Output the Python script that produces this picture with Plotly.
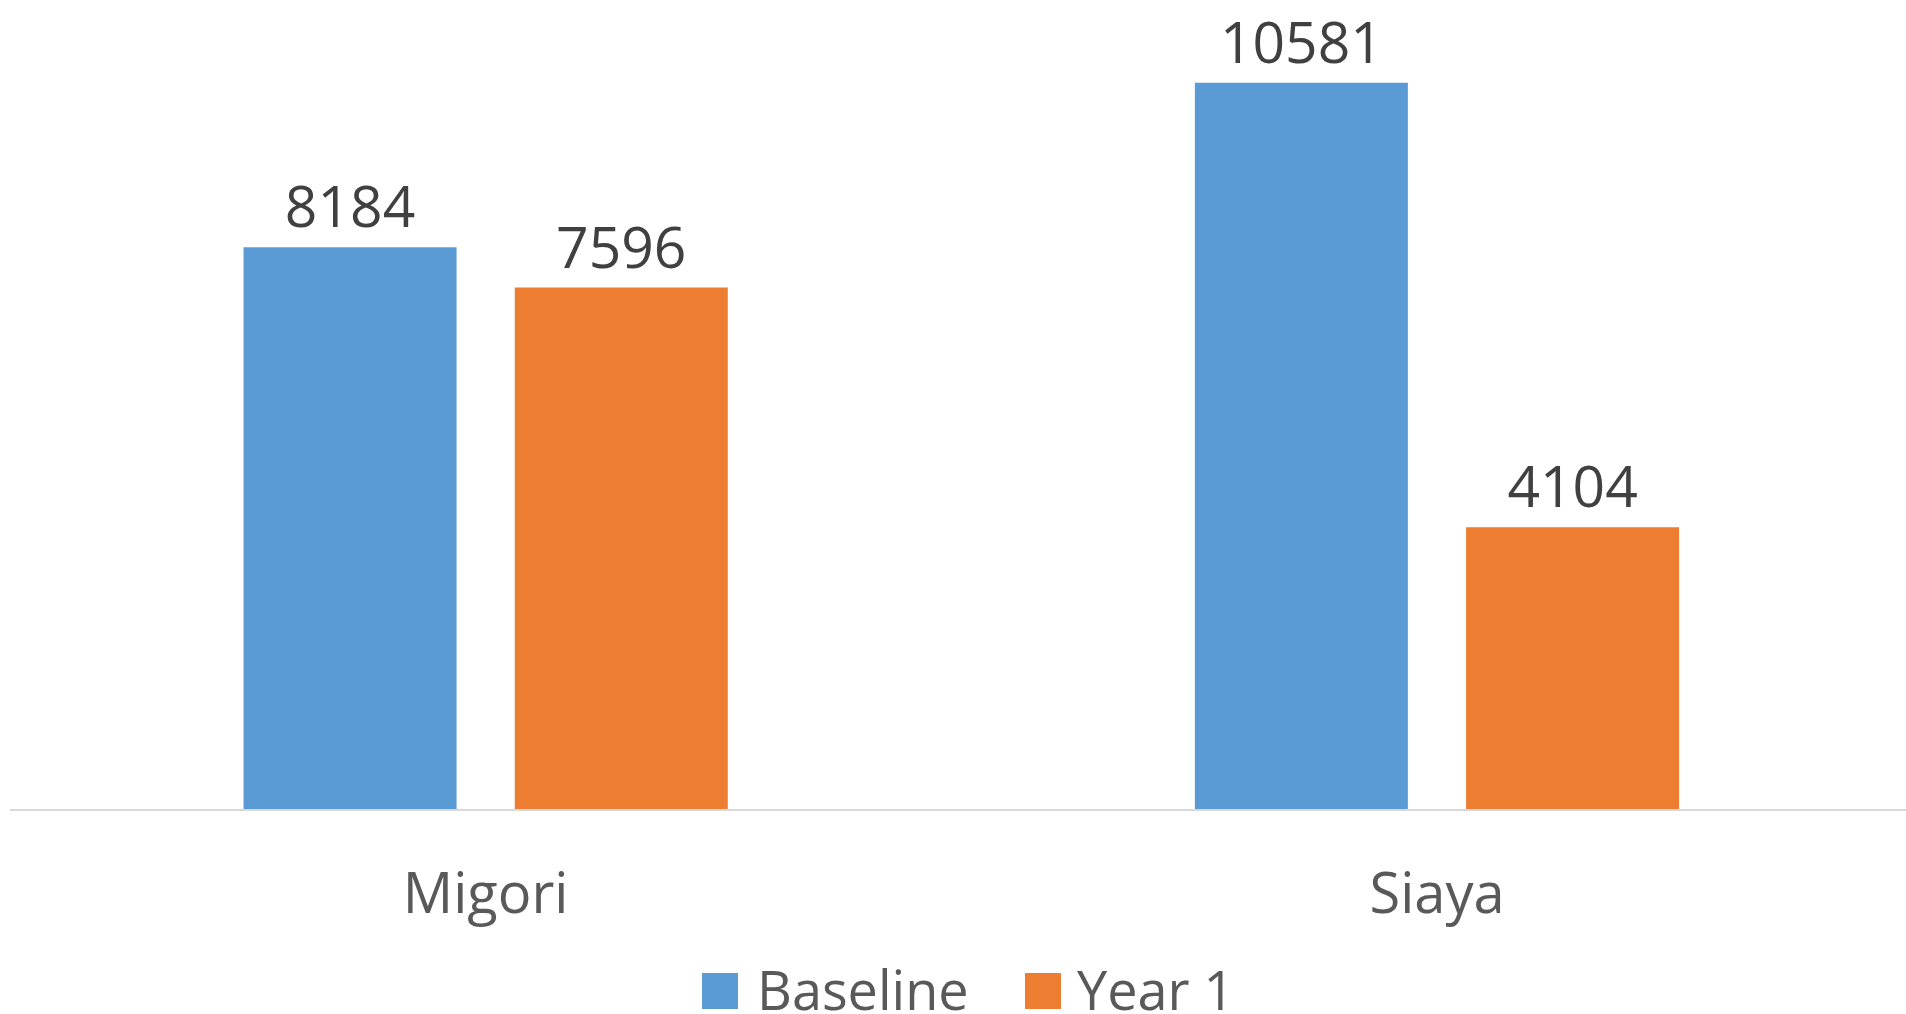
import plotly.graph_objects as go

# ---- data ----
categories = ["Migori", "Siaya"]
series_names = ["Baseline", "Year 1"]
baseline = [8184, 10581]
year1 = [7596, 4104]

# ---- style ----
BLUE = "#5B9BD5"
ORANGE = "#ED7D31"
FONT = "Open Sans"
W, H = 1906, 1014
L, R, T, B = 10, 0, 10, 205

fig = go.Figure()
for name, vals, color in [(series_names[0], baseline, BLUE),
                          (series_names[1], year1, ORANGE)]:
    fig.add_trace(go.Bar(
        name=name, x=categories, y=vals,
        marker=dict(color=color, line=dict(width=0)),
        texttemplate="%{y:.0f}", textposition="outside", cliponaxis=False,
        constraintext="none",
        textfont=dict(family=FONT, size=57, color="#404040"),
        showlegend=False,
    ))

def px(x):
    return (x - L) / (W - L - R)

def py(y):
    return (H - B - y) / (H - T - B)

# manual legend (large square swatches like the reference)
legend_items = [(series_names[0], BLUE, 702, 738, 755),
                (series_names[1], ORANGE, 1025, 1061, 1075)]
shapes = []
annotations = []
for name, color, sx0, sx1, tx in legend_items:
    shapes.append(dict(type="rect", xref="paper", yref="paper",
                       x0=px(sx0), x1=px(sx1), y0=py(1009), y1=py(973),
                       fillcolor=color, line=dict(width=0)))
    annotations.append(dict(text=name, xref="paper", yref="paper",
                            x=px(tx), y=py(989), xanchor="left", yanchor="middle",
                            showarrow=False,
                            font=dict(family=FONT, size=54, color="#595959")))

fig.update_layout(
    width=W, height=H,
    margin=dict(l=L, r=R, t=T, b=B, pad=0),
    paper_bgcolor="white", plot_bgcolor="white",
    barmode="group", bargap=0.4298, bargroupgap=0.2146,
    font=dict(family=FONT, color="#595959"),
    shapes=shapes, annotations=annotations,
    showlegend=False,
    xaxis=dict(type="category", range=[-0.5, 1.493], showline=True,
               linecolor="#D9D9D9", linewidth=2, ticks="", showgrid=False,
               zeroline=False, ticklabelstandoff=35,
               tickfont=dict(family=FONT, size=56, color="#595959")),
    yaxis=dict(range=[0, 11640], visible=False, showgrid=False, zeroline=False),
)

fig.write_html("out.html")
